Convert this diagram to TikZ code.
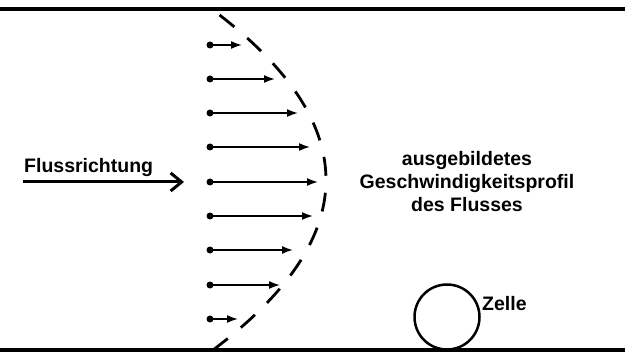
\documentclass[tikz,border=0pt]{standalone}
\usepackage{fontspec}
\setmainfont{Liberation Sans}
\usetikzlibrary{arrows.meta}
\begin{document}
\begin{tikzpicture}[x=1pt,y=-1pt,
  wall/.style={line width=3.5pt},
  label/.style={font=\fontsize{19.5}{23}\selectfont\bfseries, inner sep=0pt},
  vel/.style={line width=1.6pt, -{Latex[length=11pt,width=8pt]}},
  src/.style={circle, fill=black, inner sep=0pt, minimum size=7pt},
  profile/.style={line width=2.8pt, dash pattern=on 19pt off 17pt},
  flow/.style={line width=3pt, -{Straight Barb[length=11pt,width=18pt,line width=3pt]}}]
  \useasboundingbox (0,0) rectangle (625,353);
  % channel walls
  \coordinate (tl) at (0,9);   \coordinate (tr) at (625,9);
  \coordinate (bl) at (0,350); \coordinate (br) at (625,350);
  \draw[wall] (tl) -- (tr);
  \draw[wall] (bl) -- (br);
  % parabolic velocity profile (dashed front); parameter in units of 10
  \draw[profile] plot[domain=-16.5:17.2, samples=80, smooth]
    ({326-0.391*\x*\x}, {180+10*\x});
  % velocity vectors
  \foreach \i/\y/\t in {1/45/242, 2/79/275, 3/113/298, 4/147/310, 5/182/318,
                        6/216/313, 7/250/293, 8/285/280, 9/319/238} {
    \node[src] (s\i) at (210,\y) {};
    \coordinate (t\i) at (\t,\y);
    \draw[vel] (s\i.center) -- (t\i);
  }
  % flow direction
  \node[label, anchor=base west] (fr) at (24,173) {Flussrichtung};
  \coordinate (fa) at (23,182);
  \coordinate (fb) at (184,182);
  \draw[flow] (fa) -- (fb);
  % profile caption
  \node[label, align=center] (prof) at (467,182)
    {ausgebildetes\\Geschwindigkeitsprofil\\des Flusses};
  % cell resting on the wall
  \node[circle, draw, line width=2.5pt, minimum size=65pt, inner sep=0pt] (cell) at (447,317) {};
  \node[label, anchor=base west] (zl) at (482,310) {Zelle};
\end{tikzpicture}
\end{document}
